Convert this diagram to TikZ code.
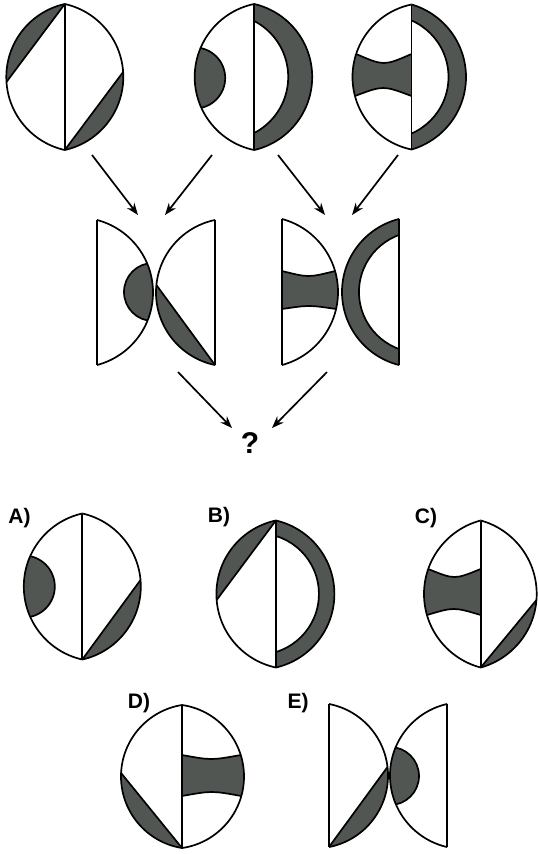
\documentclass[tikz,border=0pt]{standalone}
\usepackage{fontspec}
\setmainfont{Liberation Sans}
\usetikzlibrary{arrows.meta}
\definecolor{figgray}{RGB}{82,86,82}
\tikzset{
  fig/.style={draw=black,line width=1.7pt,line join=round},
  arr/.style={draw=black,line width=1.7pt,-{Stealth[length=12pt,width=9pt]}},
  lab/.style={inner sep=0pt,font=\fontsize{21}{21}\selectfont\bfseries},
  qmark/.style={inner sep=0pt,font=\fontsize{30}{30}\selectfont\bfseries}
}
% half lens: cx, mid, w, h, side
\newcommand\lensset[5]{%
  \pgfmathsetmacro\Lcx{#1}%
  \pgfmathsetmacro\Lmid{#2}%
  \pgfmathsetmacro\Lw{#3}%
  \pgfmathsetmacro\Lh{#4}%
  \pgfmathsetmacro\Ls{#5}%
  \pgfmathsetmacro\Lc{(\Lh*\Lh-\Lw*\Lw)/(2*\Lw)}%
  \pgfmathsetmacro\LR{\Lc+\Lw}%
  \pgfmathsetmacro\Lox{\Lcx-\Ls*\Lc}%
  \pgfmathsetmacro\Lfar{\Lcx+\Ls*(\Lw+12)}%
  \pgfmathsetmacro\Ltop{\Lmid-\Lh}%
  \pgfmathsetmacro\Lbot{\Lmid+\Lh}%
}
\newcommand\lensclip{\clip (\Lox,\Lmid) circle[radius=\LR pt]; \clip (\Lcx,\Ltop-10) rectangle (\Lfar,\Lbot+10);}
\newcommand\lensoutline{%
  \begin{scope}\clip (\Lcx,\Ltop-10) rectangle (\Lfar,\Lbot+10);
    \draw[fig] (\Lox,\Lmid) circle[radius=\LR pt];\end{scope}
  \draw[fig] (\Lcx,\Ltop) -- (\Lcx,\Lbot);}
% blob: y on arc, radius
\newcommand\lensblob[2]{%
  \pgfmathsetmacro\Lbx{\Lox+\Ls*sqrt(\LR*\LR-((#1)-\Lmid)*((#1)-\Lmid))}%
  \begin{scope}\lensclip \filldraw[fig,fill=figgray] (\Lbx,#1) circle[radius=#2 pt];\end{scope}}
% chord: y of arc point, apex (-1 top, 1 bottom)
\newcommand\lenschord[2]{%
  \pgfmathsetmacro\Lpx{\Lox+\Ls*sqrt(\LR*\LR-((#1)-\Lmid)*((#1)-\Lmid))}%
  \pgfmathsetmacro\Lay{\Lmid+(#2)*\Lh}%
  \pgfmathsetmacro\Lqx{\Lcx+\Ls*150}%
  \pgfmathsetmacro\Lqy{\Lay+(#2)*50}%
  \begin{scope}\lensclip
    \fill[figgray] (\Lcx,\Lay) -- (\Lpx,#1) -- (\Lqx,#1) -- (\Lqx,\Lqy) -- (\Lcx,\Lqy) -- cycle;
    \draw[fig] (\Lcx,\Lay) -- (\Lpx,#1);
  \end{scope}}
% band: top offset, bottom offset, sag top, sag bottom
\newcommand\lensband[4]{%
  \pgfmathsetmacro\Lyt{\Lmid+(#1)}%
  \pgfmathsetmacro\Lyb{\Lmid+(#2)}%
  \pgfmathsetmacro\Lxt{\Lox+\Ls*sqrt(\LR*\LR-(\Lyt-\Lmid)*(\Lyt-\Lmid))}%
  \pgfmathsetmacro\Lxb{\Lox+\Ls*sqrt(\LR*\LR-(\Lyb-\Lmid)*(\Lyb-\Lmid))}%
  \pgfmathsetmacro\Lct{(\Lcx+\Lxt)/2}%
  \pgfmathsetmacro\Lcb{(\Lcx+\Lxb)/2}%
  \pgfmathsetmacro\Lst{\Lyt+(#3)/0.75}%
  \pgfmathsetmacro\Lsb{\Lyb-(#4)/0.75}%
  \pgfmathsetmacro\Lxto{\Lxt+\Ls*15}%
  \pgfmathsetmacro\Lxbo{\Lxb+\Ls*15}%
  \begin{scope}\lensclip
    \fill[figgray] (\Lcx,\Lyt) .. controls (\Lct,\Lst) .. (\Lxt,\Lyt) -- (\Lxto,\Lyt) -- (\Lxbo,\Lyb) -- (\Lxb,\Lyb) .. controls (\Lcb,\Lsb) .. (\Lcx,\Lyb) -- cycle;
    \draw[fig] (\Lcx,\Lyt) .. controls (\Lct,\Lst) .. (\Lxt,\Lyt);
    \draw[fig] (\Lcx,\Lyb) .. controls (\Lcb,\Lsb) .. (\Lxb,\Lyb);
  \end{scope}}
% crescent: inner extent a, gap g
\newcommand\lenscrescent[2]{%
  \pgfmathsetmacro\Lk{\Lh-(#2)}%
  \pgfmathsetmacro\Lir{(\Lk*\Lk+(#1)*(#1))/(2*(#1))}%
  \pgfmathsetmacro\Lix{\Lcx+\Ls*((#1)-\Lir)}%
  \begin{scope}\lensclip
    \fill[figgray] (\Lcx,\Ltop-10) rectangle (\Lfar,\Lbot+10);
    \filldraw[fig,fill=white] (\Lix,\Lmid) circle[radius=\Lir pt];
  \end{scope}}

\begin{document}
\begin{tikzpicture}[x=1pt,y=-1pt]
\fill[white] (0,0) rectangle (538,854);
\useasboundingbox (0,0) rectangle (538,854);

% ---- top row
\lensset{64.8}{77}{58.5}{73}{-1} \lenschord{82}{-1} \lensoutline
\lensset{64.8}{77}{58.5}{73}{1} \lenschord{72}{1} \lensoutline

\lensset{254.2}{77}{59.5}{73}{-1} \lensblob{78}{30.5} \lensoutline
\lensset{254.2}{77}{58}{73}{1} \lenscrescent{34}{17} \lensoutline

\lensset{411.5}{77}{59}{72.5}{-1} \lensband{-23}{19}{9}{8} \lensoutline
\lensset{411.5}{77}{54.5}{72.5}{1} \lenscrescent{37}{16} \lensoutline

% ---- middle row
\lensset{97}{292.5}{56}{72.5}{1} \lensblob{292}{29} \lensoutline
\lensset{215}{292.5}{59}{72.5}{-1} \lenschord{285}{1} \lensoutline

\lensset{282}{292}{56}{73}{1} \lensband{-21}{17}{5}{3} \lensoutline
\lensset{399}{292}{57}{73}{-1} \lenscrescent{40}{16} \lensoutline

% ---- arrows
\coordinate (a1s) at (92,155);  \coordinate (a1e) at (138,215);
\coordinate (a2s) at (212,155); \coordinate (a2e) at (165,215);
\coordinate (a3s) at (278,155); \coordinate (a3e) at (325,215);
\coordinate (a4s) at (398,155); \coordinate (a4e) at (352,215);
\coordinate (a5s) at (178,372); \coordinate (a5e) at (232,428);
\coordinate (a6s) at (327,372); \coordinate (a6e) at (272,428);
\draw[arr] (a1s) -- (a1e);
\draw[arr] (a2s) -- (a2e);
\draw[arr] (a3s) -- (a3e);
\draw[arr] (a4s) -- (a4e);
\draw[arr] (a5s) -- (a5e);
\draw[arr] (a6s) -- (a6e);
\node[qmark] (q) at (250,443) {?};

% ---- answers
\node[lab] (la) at (19.5,518) {A)};
\lensset{82.3}{586.5}{58.5}{73}{-1} \lensblob{586.5}{31} \lensoutline
\lensset{82.3}{586.5}{58.5}{73}{1} \lenschord{580}{1} \lensoutline

\node[lab] (lb) at (219,517) {B)};
\lensset{275.9}{594}{59.5}{73.5}{-1} \lenschord{600}{-1} \lensoutline
\lensset{275.9}{594}{58.5}{73.5}{1} \lenscrescent{43}{15.5} \lensoutline

\node[lab] (lc) at (426,518) {C)};
\lensset{480.7}{594}{56.7}{73.5}{-1} \lensband{-25}{21}{8}{6} \lensoutline
\lensset{480.7}{594}{56}{73.5}{1} \lenschord{600}{1} \lensoutline

\node[lab] (ld) at (139,703) {D)};
\lensset{182}{776.5}{61}{71.5}{-1} \lenschord{773}{1} \lensoutline
\lensset{182}{776.5}{62}{71.5}{1} \lensband{-21.5}{19.5}{4}{4} \lensoutline

\node[lab] (le) at (298,703) {E)};
\lensset{329}{775.5}{59}{71.5}{1} \lenschord{767}{1} \lensoutline
\lensset{447}{775.5}{57}{71.5}{-1} \lensblob{776}{29} \lensoutline
\end{tikzpicture}
\end{document}
